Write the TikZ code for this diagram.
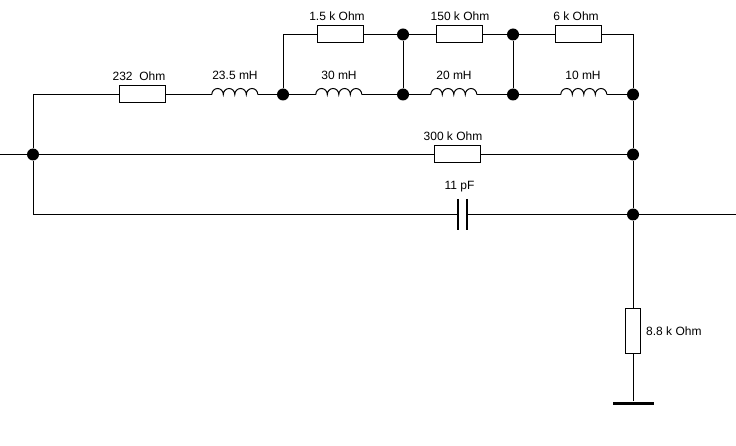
\documentclass[tikz,border=0pt]{standalone}
\usepackage{fontspec}
\setmainfont{Liberation Sans}
\newcommand{\coil}[1]{\draw[wire] (#1.west) arc (180:0:5.75pt and 6pt) arc (180:0:5.75pt and 6pt) arc (180:0:5.75pt and 6pt) arc (180:0:5.75pt and 6pt);}

\begin{document}
\begin{tikzpicture}[x=1pt,y=-1pt]
	\tikzstyle{wire}=[line width=1pt, black]
	\tikzstyle{dot}=[circle, minimum size = 12pt, inner sep=0pt, fill=black, node distance = 120pt]
	\tikzstyle{res}=[rectangle, minimum width = 46pt, minimum height = 17pt, inner sep=0pt, line width=1pt, draw=black, fill=white]
	\tikzstyle{vres}=[res, minimum width = 15pt, minimum height = 45pt]
	\tikzstyle{inductor}=[rectangle, minimum width = 46pt, minimum height = 12pt, inner sep=0pt]
	\tikzstyle{capbox}=[rectangle, minimum width = 9pt, minimum height = 31pt, inner sep=0pt]
	\tikzstyle{plate}=[line width=2.4pt, black]
	\tikzstyle{ground}=[rectangle, minimum width = 41pt, minimum height = 3pt, inner sep=0pt, fill=black]
	\tikzset{every label/.style={font=\fontsize{12}{14}\selectfont, inner sep=0pt, text height=8.5pt, text depth=0pt}}
	\useasboundingbox (0,0) rectangle (736,446);
	  % junctions
	  \node[dot] (j_in) at (33,154.5) {};
	  \node[dot] (j_a) at (283,94.5) {};
	  \node[dot] (j_b) [right of=j_a] {};
	  \node[dot,node distance=110pt] (j_c) [right of=j_b] {};
	  \node[dot] (j_d) [right of=j_c] {};
	  \node[dot,node distance=60pt] (j_e) [above of=j_b] {};
	  \node[dot,node distance=60pt] (j_f) [above of=j_c] {};
	  \node[dot,node distance=60pt] (j_g) [below of=j_d] {};
	  \node[dot,node distance=120pt] (j_h) [below of=j_d] {};
	  % free ends and corners
	  \coordinate (in) at (0,154.5);
	  \coordinate (out) at (736,214.5);
	  \coordinate (c_1) at (33,94.5);
	  \coordinate (c_2) at (33,214.5);
	  \coordinate (c_3) at (283,34.5);
	  \coordinate (c_4) at (633,34.5);
	  % resistors
	  \node[res,label={[xshift=-3pt,yshift=5pt]above:232\ \ Ohm}] (r_232) at (142,94.5) {};
	  \node[res,label={[xshift=-3pt,yshift=5pt]above:1.5 k Ohm}] (r_15) at (340,34.5) {};
	  \node[res,label={[xshift=1pt,yshift=5pt]above:150 k Ohm}] (r_150) at (459,34.5) {};
	  \node[res,label={[xshift=-2pt,yshift=5pt]above:6 k Ohm}] (r_6) at (578,34.5) {};
	  \node[res,label={[xshift=-4pt,yshift=5pt]above:300 k Ohm}] (r_300) at (457,154.5) {};
	  \node[vres,label={[xshift=5pt]right:8.8 k Ohm}] (r_88) at (633,331) {};
	  % inductors
	  \node[inductor,label={[yshift=9pt]above:23.5 mH}] (l_235) at (235,94.5) {};
	  \node[inductor,label={[yshift=9pt]above:30 mH}] (l_30) at (339,94.5) {};
	  \node[inductor,label={[yshift=9pt]above:20 mH}] (l_20) at (454,94.5) {};
	  \node[inductor,label={[xshift=-1pt,yshift=9pt]above:10 mH}] (l_10) at (584,94.5) {};
	  \coil{l_235} \coil{l_30} \coil{l_20} \coil{l_10}
	  % capacitor and ground
	  \node[capbox,label={[xshift=-3pt,yshift=9pt]above:11 pF}] (c_11) at (462.5,214.5) {};
	  \draw[plate] (c_11.north west) -- (c_11.south west);
	  \draw[plate] (c_11.north east) -- (c_11.south east);
	  \node[ground] (gnd) at (633,403) {};
	  \path[wire]
	    (in) edge (j_in)
	    (j_in) edge (c_1)
	    	edge (c_2)
	    	edge (r_300)
	    (c_1) edge (r_232)
	    (r_232) edge (l_235)
	    (l_235) edge (j_a)
	    (j_a) edge (l_30)
	    	edge (c_3)
	    (c_3) edge (r_15)
	    (r_15) edge (j_e)
	    (j_e) edge (r_150)
	    	edge (j_b)
	    (r_150) edge (j_f)
	    (j_f) edge (r_6)
	    	edge (j_c)
	    (r_6) edge (c_4)
	    (c_4) edge (j_d)
	    (l_30) edge (j_b)
	    (j_b) edge (l_20)
	    (l_20) edge (j_c)
	    (j_c) edge (l_10)
	    (l_10) edge (j_d)
	    (j_d) edge (j_g)
	    (j_g) edge (j_h)
	    	edge (r_300)
	    (c_2) edge (c_11)
	    (c_11) edge (j_h)
	    (j_h) edge (out)
	    	edge (r_88)
	    (r_88) edge (gnd);
\end{tikzpicture}
\end{document}
